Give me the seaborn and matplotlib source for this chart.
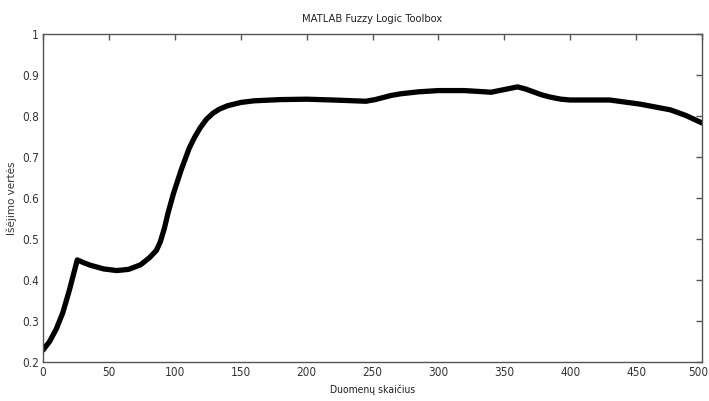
import matplotlib
matplotlib.use("Agg")
import matplotlib.pyplot as plt
from matplotlib.transforms import ScaledTranslation
import seaborn as sns
import pandas as pd

# Fuzzy system output over the data samples
sample = [0, 5, 10, 15, 20, 26, 31, 36, 46, 56, 65, 74, 81, 86, 89, 92, 95, 99, 105, 111,
          115, 119, 124, 129, 134, 140, 150, 160, 180, 200, 220, 245, 252, 258, 264, 271,
          285, 300, 320, 340, 360, 366, 372, 378, 385, 393, 400, 430, 453, 476, 488, 500]
output = [0.229, 0.25, 0.28, 0.32, 0.375, 0.449, 0.442, 0.436, 0.427, 0.423, 0.426,
          0.437, 0.455, 0.472, 0.493, 0.525, 0.565, 0.611, 0.67, 0.722, 0.748, 0.770,
          0.792, 0.807, 0.817, 0.825, 0.833, 0.837, 0.840, 0.841, 0.839, 0.836, 0.840,
          0.845, 0.850, 0.854, 0.859, 0.862, 0.862, 0.858, 0.871, 0.866, 0.859, 0.852,
          0.846, 0.841, 0.839, 0.839, 0.829, 0.815, 0.801, 0.783]

x_ticks = [0, 50, 100, 150, 200, 250, 300, 350, 400, 450, 500]
y_ticks = [0.2, 0.3, 0.4, 0.5, 0.6, 0.7, 0.8, 0.9, 1.0]
y_tick_labels = ["0.2", "0.3", "0.4", "0.5", "0.6", "0.7", "0.8", "0.9", "1"]

df = pd.DataFrame({"sample": sample, "output": output})

sns.set_style("white")
plt.rcParams["font.family"] = ["DejaVu Sans"]
plt.rcParams["font.stretch"] = "condensed"

fig = plt.figure(figsize=(7.09, 4.01), dpi=100)
ax = fig.add_axes([43 / 709, (401 - 362) / 401, 659 / 709, 328 / 401])

sns.lineplot(data=df, x="sample", y="output", ax=ax, color="black",
             linewidth=3.8, solid_joinstyle="round", solid_capstyle="round")

ax.set_xlim(0, 500)
ax.set_ylim(0.2, 1.0)
ax.set_xticks(x_ticks)
ax.set_xticklabels([str(t) for t in x_ticks])
ax.set_yticks(y_ticks)
ax.set_yticklabels(y_tick_labels)

grey = "#555555"
for s in ax.spines.values():
    s.set_visible(True)
    s.set_color(grey)
    s.set_linewidth(1.0)
ax.tick_params(direction="in", length=4.5, width=1.0, color=grey,
               top=True, right=True, labelsize=8.5, labelcolor="#333333", pad=3)

# keep the last x tick label inside the canvas
last = ax.get_xticklabels()[-1]
last.set_transform(last.get_transform() + ScaledTranslation(-2.5 / 72, 0, fig.dpi_scale_trans))

ax.set_title("MATLAB Fuzzy Logic Toolbox", fontsize=8, color="#222222", pad=9)
ax.set_xlabel("Duomenų skaičius", fontsize=7.5, color="#222222", labelpad=4)
ax.set_ylabel("Išėjimo vertės", fontsize=7.5, color="#333333", fontstretch="normal")
ax.yaxis.set_label_coords(-0.040, 0.5)

fig.savefig("out.png", dpi=100)
